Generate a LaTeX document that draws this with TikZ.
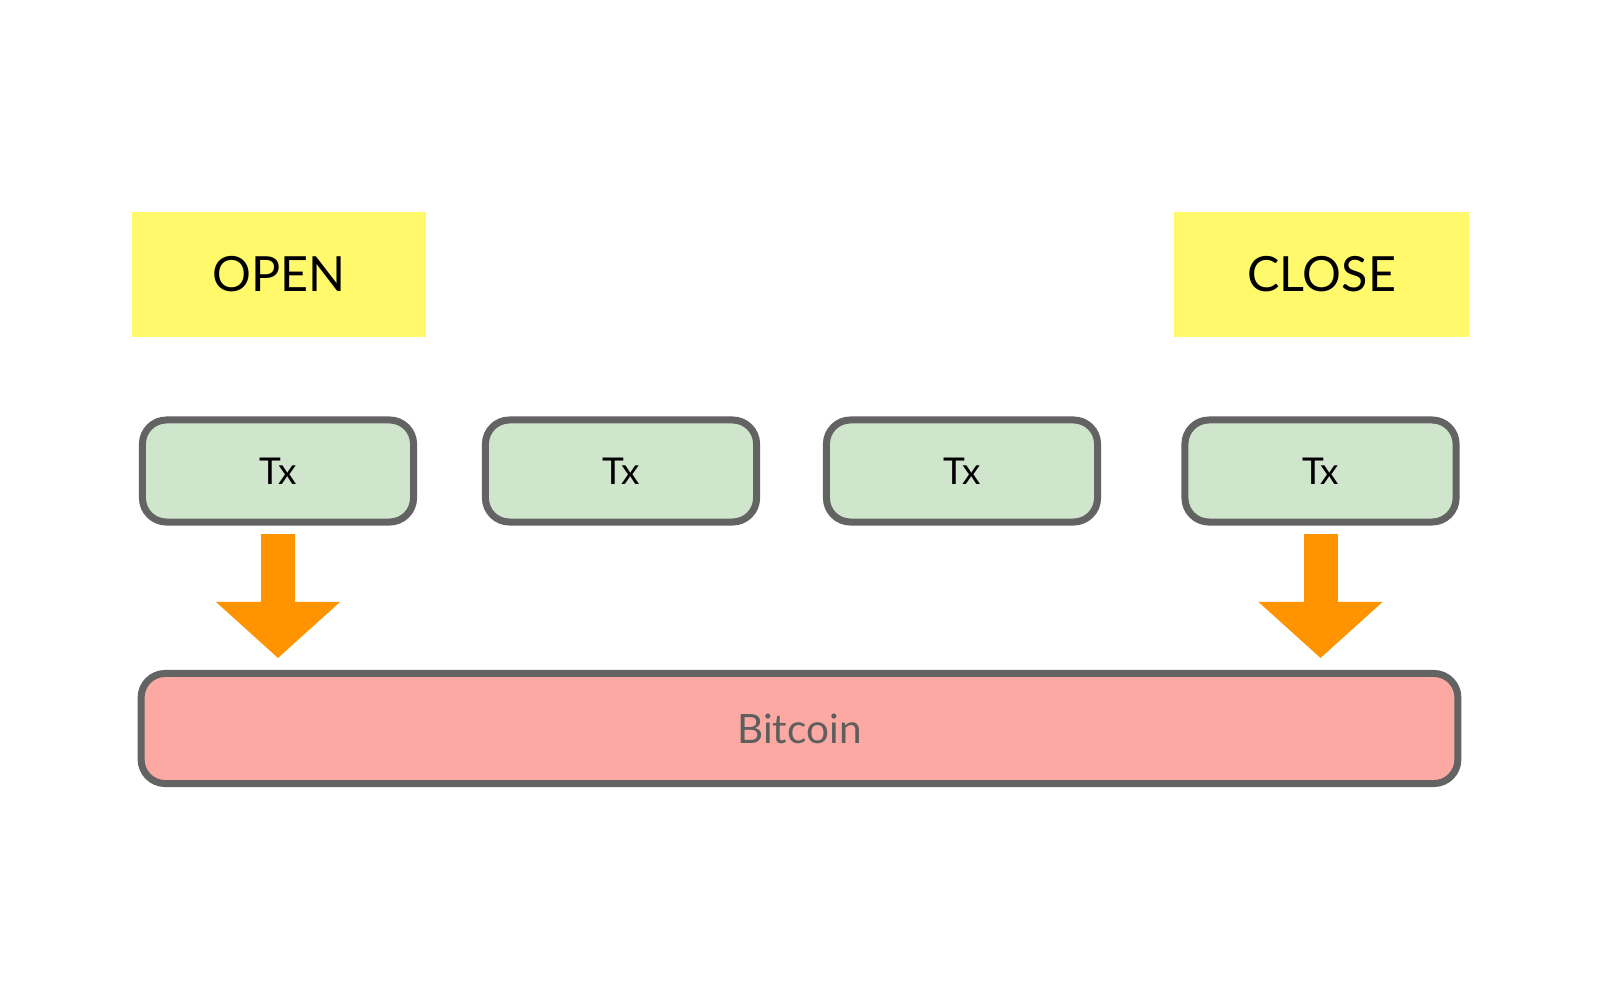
\documentclass[tikz,border=0pt]{standalone}
\usepackage{fontspec}
\setmainfont{Lato}
\usepackage{xcolor}
\usetikzlibrary{positioning}
\usetikzlibrary{arrows.meta}
\definecolor{labelyellow}{HTML}{FFF96B}
\definecolor{txgreen}{HTML}{CFE5CC}
\definecolor{chainpink}{HTML}{FDA9A3}
\definecolor{edgegray}{HTML}{636363}
\definecolor{arroworange}{HTML}{FF9400}
\tikzset{
    labelbox/.style = {rectangle, fill=labelyellow, align=center, minimum width=2.94cm, minimum height=1.25cm, font=\fontsize{13.8}{16}\selectfont},
    txbox/.style = {rectangle, rounded corners=0.24cm, draw=edgegray, line width=0.07cm, fill=txgreen, minimum width=2.71cm, minimum height=1.02cm, font=\fontsize{10.5}{12}\selectfont},
    chainbox/.style = {rectangle, rounded corners=0.24cm, draw=edgegray, line width=0.07cm, fill=chainpink, text=edgegray!95!black, minimum width=13.16cm, minimum height=1.10cm, font=\fontsize{11.5}{14}\selectfont},
}

\begin{document}
\begin{tikzpicture}[
	x=0.01cm,
	y=-0.01cm
]
\tikzset{
    bigarrow/.style = {draw=arroworange, line width=0.34cm, shorten <=0.08cm, shorten >=0.12cm,
        -{Triangle[length=0.56cm, width=1.24cm, line width=0pt, fill=arroworange]}},
}
\useasboundingbox (0,0) rectangle (1600,1000);
\node[labelbox] at (279,274.5) (open) {OPEN};
\node[labelbox] at (1321.5,274.5) (close) {CLOSE};
%
\node[txbox] at (278,471) (tx1) {Tx};
\node[txbox] at (621,471) (tx2) {Tx};
\node[txbox] at (962,471) (tx3) {Tx};
\node[txbox] at (1320.5,471) (tx4) {Tx};
%
\node[chainbox] at (799.5,728.5) (btc) {Bitcoin};
%
\draw[bigarrow] (tx1.south) -- (tx1.south |- btc.north);
\draw[bigarrow] (tx4.south) -- (tx4.south |- btc.north);
\end{tikzpicture}
\end{document}
